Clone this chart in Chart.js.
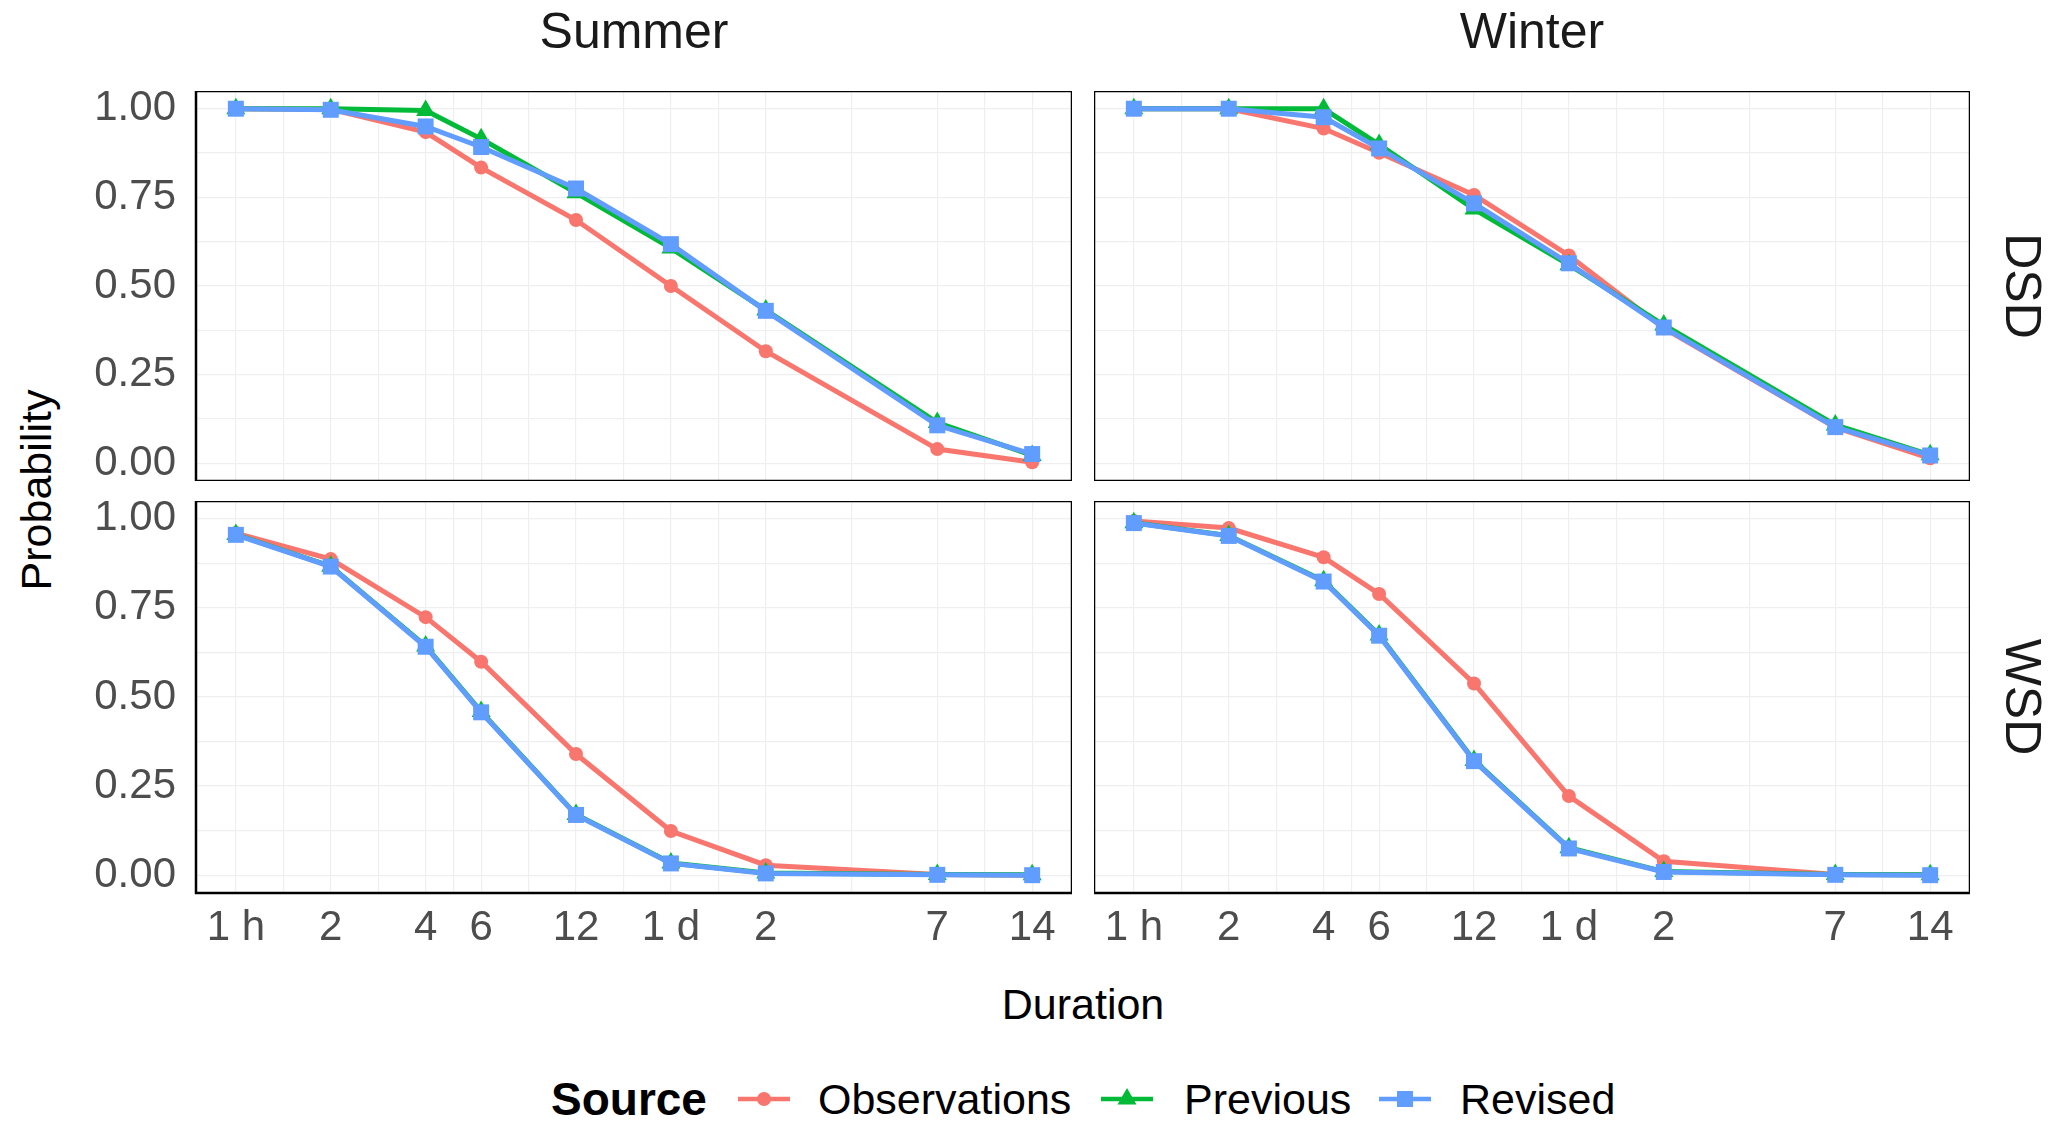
<!DOCTYPE html>
<html>
<head>
<meta charset="utf-8">
<script src="https://cdn.jsdelivr.net/npm/chart.js@4.4.1/dist/chart.umd.min.js"></script>
<style>
  html, body { margin: 0; padding: 0; background: #ffffff; }
  #page { position: relative; width: 2067px; height: 1128px; overflow: hidden; background: #fff;
          font-family: "Liberation Sans", Arial, sans-serif; }
  canvas { position: absolute; }
  .txt { position: absolute; white-space: nowrap; line-height: 1; transform: translate(-50%, -50%); }
  .strip { font-size: 50px; color: #1a1a1a; }
  .axtitle { font-size: 43px; color: #000; }
  .leg { position: absolute; white-space: nowrap; line-height: 1; transform: translateY(-50%); font-size: 43px; color: #000; }
  .legkey { position: absolute; transform: translate(-50%, -50%); }
</style>
</head>
<body>
<div id="page">
  <canvas id="c_sd" width="1012" height="390" style="left:60px; top:91px; width:1012px; height:390px;"></canvas>
  <canvas id="c_wd" width="876" height="390" style="left:1094px; top:91px; width:876px; height:390px;"></canvas>
  <canvas id="c_sw" width="1012" height="459" style="left:60px; top:501px; width:1012px; height:459px;"></canvas>
  <canvas id="c_ww" width="876" height="459" style="left:1094px; top:501px; width:876px; height:459px;"></canvas>

  <div class="txt strip" style="left:634px; top:31px;">Summer</div>
  <div class="txt strip" style="left:1532px; top:31px;">Winter</div>
  <div class="txt strip" style="left:2023px; top:286px; transform: translate(-50%,-50%) rotate(90deg);">DSD</div>
  <div class="txt strip" style="left:2023px; top:697px; transform: translate(-50%,-50%) rotate(90deg);">WSD</div>
  <div class="txt axtitle" style="left:1083px; top:1004px;">Duration</div>
  <div class="txt axtitle" style="left:36px; top:490px; transform: translate(-50%,-50%) rotate(-90deg);">Probability</div>

  <div class="leg" style="left:551px; top:1099px; font-weight:bold; font-size:46px;">Source</div>
  <svg class="legkey" style="left:764px; top:1099px;" width="56" height="30" viewBox="0 0 56 30">
    <line x1="2" y1="15" x2="54" y2="15" stroke="#F8766D" stroke-width="4.5"/>
    <circle cx="28" cy="15" r="7" fill="#F8766D"/>
  </svg>
  <div class="leg" style="left:818px; top:1099px;">Observations</div>
  <svg class="legkey" style="left:1127px; top:1099px;" width="56" height="30" viewBox="0 0 56 30">
    <line x1="2" y1="15" x2="54" y2="15" stroke="#00BA38" stroke-width="4.5"/>
    <polygon points="28,4 37.5,20.5 18.5,20.5" fill="#00BA38"/>
  </svg>
  <div class="leg" style="left:1184px; top:1099px;">Previous</div>
  <svg class="legkey" style="left:1405px; top:1099px;" width="56" height="30" viewBox="0 0 56 30">
    <line x1="2" y1="15" x2="54" y2="15" stroke="#619CFF" stroke-width="4.5"/>
    <rect x="20" y="7" width="16" height="16" fill="#619CFF"/>
  </svg>
  <div class="leg" style="left:1460px; top:1099px;">Revised</div>
</div>

<script>
// ---- Data ----
const durations = [1, 2, 4, 6, 12, 24, 48, 168, 336];          // hours
const durationLabels = ['1 h', '2', '4', '6', '12', '1 d', '2', '7', '14'];
const durationMinor = [1.414, 2.828, 4.899, 8.485, 16.97, 33.94, 89.8, 237.6];
const yTickValues = [0, 0.25, 0.5, 0.75, 1];
const yTickLabels = ['0.00', '0.25', '0.50', '0.75', '1.00'];
const yMinor = [0.125, 0.375, 0.625, 0.875];
const sourceNames = ['Observations', 'Previous', 'Revised'];

const summerDSD_obs  = [1.000, 0.998, 0.934, 0.834, 0.686, 0.500, 0.316, 0.040, 0.003];
const summerDSD_prev = [1.000, 1.000, 0.995, 0.915, 0.763, 0.607, 0.432, 0.115, 0.022];
const summerDSD_rev  = [1.000, 0.997, 0.950, 0.892, 0.775, 0.618, 0.430, 0.107, 0.026];

const winterDSD_obs  = [1.000, 1.000, 0.944, 0.876, 0.757, 0.586, 0.381, 0.101, 0.014];
const winterDSD_prev = [1.000, 1.000, 1.000, 0.899, 0.717, 0.560, 0.390, 0.108, 0.024];
const winterDSD_rev  = [1.000, 1.000, 0.976, 0.888, 0.733, 0.564, 0.383, 0.102, 0.022];

const summerWSD_obs  = [0.960, 0.887, 0.724, 0.599, 0.340, 0.124, 0.028, 0.002, 0.000];
const summerWSD_prev = [0.956, 0.867, 0.643, 0.459, 0.170, 0.034, 0.006, 0.002, 0.001];
const summerWSD_rev  = [0.955, 0.866, 0.641, 0.457, 0.169, 0.033, 0.005, 0.001, 0.000];

const winterWSD_obs  = [0.994, 0.974, 0.892, 0.789, 0.538, 0.222, 0.039, 0.002, 0.001];
const winterWSD_prev = [0.989, 0.953, 0.826, 0.674, 0.322, 0.077, 0.010, 0.002, 0.001];
const winterWSD_rev  = [0.988, 0.952, 0.824, 0.672, 0.320, 0.075, 0.009, 0.001, 0.000];

// ---- Styling ----
const COLORS = ['#F8766D', '#00BA38', '#619CFF'];
const SHAPES = ['circle', 'triangle', 'rect'];
const RADII = [7, 11, 11.3];
const FONT = '"Liberation Sans", Arial, sans-serif';
const GRID = '#efefef';

const panelBorder = {
  id: 'panelBorder',
  afterDatasetsDraw(chart) {
    const a = chart.chartArea, ctx = chart.ctx;
    ctx.save();
    ctx.strokeStyle = '#000';
    ctx.lineWidth = 2.5;
    ctx.strokeRect(a.left, a.top, a.right - a.left, a.bottom - a.top);
    ctx.restore();
  }
};

function makeDatasets(obs, prev, rev) {
  return [obs, prev, rev].map((arr, i) => ({
    label: sourceNames[i],
    data: durations.map((d, k) => ({ x: d, y: arr[k] })),
    borderColor: COLORS[i],
    backgroundColor: COLORS[i],
    pointBackgroundColor: COLORS[i],
    pointBorderColor: COLORS[i],
    pointBorderWidth: 0,
    pointStyle: SHAPES[i],
    pointRadius: RADII[i],
    borderWidth: 5,
    tension: 0,
    order: 3 - i,
    clip: false
  }));
}

function makeChart(id, sets, showY, showX) {
  const ctx = document.getElementById(id);
  return new Chart(ctx, {
    type: 'line',
    data: { datasets: makeDatasets(...sets) },
    plugins: [panelBorder],
    options: {
      responsive: false,
      animation: false,
      events: [],
      layout: { padding: 0, autoPadding: false },
      plugins: { legend: { display: false }, tooltip: { enabled: false } },
      scales: {
        x: {
          type: 'logarithmic',
          position: 'bottom',
          bounds: 'data',
          min: 0.7474,
          max: 449.5,
          grid: { color: GRID, lineWidth: 1.2, drawTicks: false },
          border: { display: false },
          ticks: {
            display: showX,
            autoSkip: false,
            maxRotation: 0,
            minRotation: 0,
            padding: 10,
            color: '#4d4d4d',
            font: { family: FONT, size: 42 },
            callback: (v) => { const i = durations.indexOf(v); return i >= 0 ? durationLabels[i] : ''; }
          },
          afterBuildTicks: (s) => { s.ticks = durations.concat(durationMinor).sort((a, b) => a - b).map(v => ({ value: v })); },
          afterFit: (s) => { s.height = showX ? 67 : 0; s.paddingLeft = 0; s.paddingRight = 0; }
        },
        y: {
          type: 'linear',
          position: 'left',
          bounds: 'data',
          min: -0.05,
          max: 1.05,
          grid: { color: GRID, lineWidth: 1.2, drawTicks: false },
          border: { display: false },
          ticks: {
            display: showY,
            autoSkip: false,
            padding: 20,
            color: '#4d4d4d',
            font: { family: FONT, size: 42 },
            callback: (v) => { const i = yTickValues.indexOf(v); return i >= 0 ? yTickLabels[i] : ''; }
          },
          afterBuildTicks: (s) => { s.ticks = yTickValues.concat(yMinor).sort((a, b) => a - b).map(v => ({ value: v })); },
          afterFit: (s) => { s.width = showY ? 136 : 0; s.paddingTop = 0; s.paddingBottom = 0; }
        }
      }
    }
  });
}

makeChart('c_sd', [summerDSD_obs, summerDSD_prev, summerDSD_rev], true, false);
makeChart('c_wd', [winterDSD_obs, winterDSD_prev, winterDSD_rev], false, false);
makeChart('c_sw', [summerWSD_obs, summerWSD_prev, summerWSD_rev], true, true);
makeChart('c_ww', [winterWSD_obs, winterWSD_prev, winterWSD_rev], false, true);
</script>
</body>
</html>
